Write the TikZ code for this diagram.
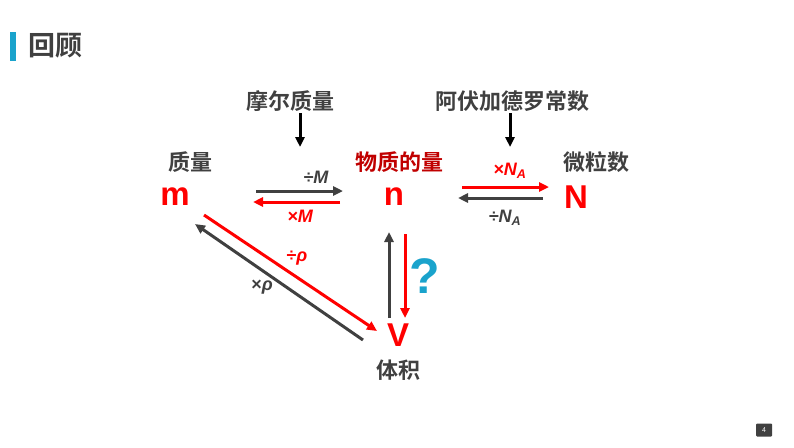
\documentclass[tikz,border=0pt]{standalone}
\usepackage{fontspec}
\setmainfont{Liberation Sans}
\newfontfamily\cjk{Noto Sans CJK SC}[BoldFont={Noto Sans CJK SC Bold}]
\usetikzlibrary{arrows.meta}
\definecolor{dk}{HTML}{404040}
\definecolor{rd}{HTML}{FF0000}
\definecolor{drd}{HTML}{C00000}
\definecolor{bl}{HTML}{1AA3CC}
\begin{document}
\begin{tikzpicture}[x=1pt,y=-1pt,
  cl/.style={font=\cjk\bfseries\fontsize{22}{24}\selectfont,text=dk,inner sep=0},
  big/.style={font=\bfseries\fontsize{33}{35}\selectfont,text=rd,inner sep=0},
  lab/.style={font=\bfseries\itshape\fontsize{18}{20}\selectfont,inner sep=0},
  ar/.style={line width=3pt,-{Triangle[length=10pt,width=9pt]}}]
\useasboundingbox (0,0) rectangle (794,447);
\fill[bl] (10,32) rectangle (16,61);
\node[font=\cjk\bfseries\fontsize{27}{29}\selectfont,text=dk,anchor=west] (t) at (25,46) {回顾};
\node[cl] (mr) at (290,101) {摩尔质量};
\node[cl] (av) at (512,101) {阿伏加德罗常数};
\node[cl] (zl) at (190,162) {质量};
\node[cl,text=drd] (wz) at (399,162) {物质的量};
\node[cl] (wl) at (596,162) {微粒数};
\node[cl] (tj) at (398,370) {体积};
\node[big] (m) at (175,197) {m};
\node[big] (n) at (394,197) {n};
\node[big] (N) at (576,197) {N};
\node[big] (V) at (398,335) {V};
\coordinate (a1) at (300,113); \coordinate (a2) at (300,147);
\coordinate (b1) at (510,113); \coordinate (b2) at (510,147);
\draw[ar,black] (a1) -- (a2);
\draw[ar,black] (b1) -- (b2);
\coordinate (c1) at (256,191); \coordinate (c2) at (343,191);
\coordinate (d1) at (340,202); \coordinate (d2) at (253,202);
\draw[ar,dk] (c1) -- (c2);
\draw[ar,rd] (d1) -- (d2);
\node[lab,text=dk] (l1) at (316,177) {÷M};
\node[lab,text=rd] (l2) at (300,216) {×M};
\coordinate (e1) at (462,187); \coordinate (e2) at (549,187);
\coordinate (f1) at (543,198); \coordinate (f2) at (458,198);
\draw[ar,rd] (e1) -- (e2);
\draw[ar,dk] (f1) -- (f2);
\node[lab,text=rd] (l3) at (510,171) {×N\textsubscript{A}};
\node[lab,text=dk] (l4) at (505,218) {÷N\textsubscript{A}};
\coordinate (g1) at (204,215); \coordinate (g2) at (377,331);
\coordinate (h1) at (363,340); \coordinate (h2) at (195,224);
\draw[ar,rd] (g1) -- (g2);
\draw[ar,dk] (h1) -- (h2);
\node[lab,text=rd,font=\bfseries\fontsize{18}{20}\selectfont] (l5) at (297,258) {÷\textit{ρ}};
\node[lab,text=dk,font=\bfseries\fontsize{18}{20}\selectfont] (l6) at (262,287) {×\textit{ρ}};
\coordinate (i1) at (389,318); \coordinate (i2) at (389,232);
\coordinate (j1) at (405,234); \coordinate (j2) at (405,318);
\draw[ar,dk] (i1) -- (i2);
\draw[ar,rd] (j1) -- (j2);
\node[font=\bfseries\fontsize{50}{52}\selectfont,text=bl,inner sep=0] (q) at (425,276) {?};
\node[fill=dk,text=white,font=\fontsize{7}{8}\selectfont,minimum width=16pt,minimum height=13pt,inner sep=0,rounded corners=1pt] (pg) at (764,430) {4};
\end{tikzpicture}
\end{document}
